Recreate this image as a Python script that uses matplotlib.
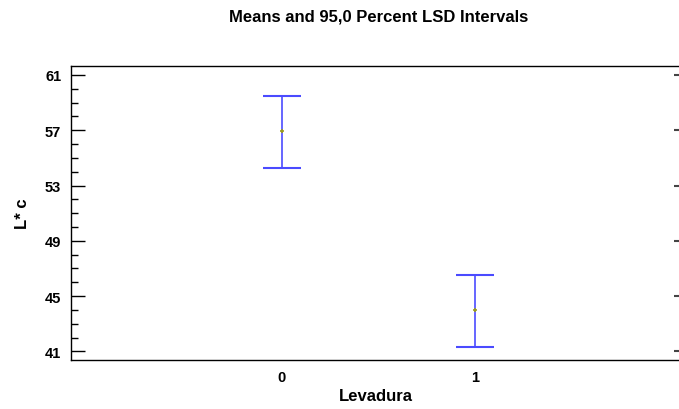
import matplotlib
matplotlib.use('Agg')
import matplotlib.pyplot as plt

plt.rcParams['font.family'] = ['Liberation Sans', 'DejaVu Sans']

levels = [0, 1]
level_labels = ['0', '1']
means = [56.92, 43.97]
lower = [54.26, 41.31]
upper = [59.50, 46.56]

fig = plt.figure(figsize=(6.79, 4.10), dpi=100)
ax = fig.add_axes([71 / 679, 49 / 410, 609 / 679, 294 / 410])

for x, m, lo, hi in zip(levels, means, lower, upper):
    ax.errorbar([x], [m], yerr=[[m - lo], [hi - m]], fmt='none',
                ecolor='#4b4bff', elinewidth=1.2, capsize=14, capthick=1.5)
ax.plot(levels, means, '+', color='#9a9a20', markersize=3.5, mew=1.2)

ax.set_xlim(-1.088, 2.057)
ax.set_ylim(40.38, 61.65)
ax.set_xticks(levels)
ax.set_xticklabels(level_labels)
ax.set_yticks([41, 45, 49, 53, 57, 61])
ax.set_yticks(range(41, 62), minor=True)

ax.tick_params(axis='x', length=0, pad=7, labelsize=10.5)
ax.tick_params(axis='y', which='major', direction='in', length=10, width=1,
               pad=7, labelsize=10.5)
ax.tick_params(axis='y', which='minor', direction='in', length=5, width=1)
for lab in ax.get_xticklabels() + ax.get_yticklabels():
    lab.set_fontweight('bold')

# short inward marks on the right side
sec = ax.secondary_yaxis('right')
sec.set_yticks([41, 45, 49, 53, 57, 61])
sec.tick_params(direction='in', length=4, width=1.5, labelright=False, color='#444444')
sec.spines['right'].set_visible(False)
ax.spines['right'].set_visible(False)
for s in ['left', 'top', 'bottom']:
    ax.spines[s].set_linewidth(1)

ax.set_xlabel('Levadura', fontsize=12, fontweight='bold', labelpad=3)
ax.set_ylabel('L* c', fontsize=12, fontweight='bold', labelpad=11)
fig.text(379 / 679, 1 - 17 / 410, 'Means and 95,0 Percent LSD Intervals',
         ha='center', va='center', fontsize=12, fontweight='bold')

fig.savefig('out.png', dpi=100)
